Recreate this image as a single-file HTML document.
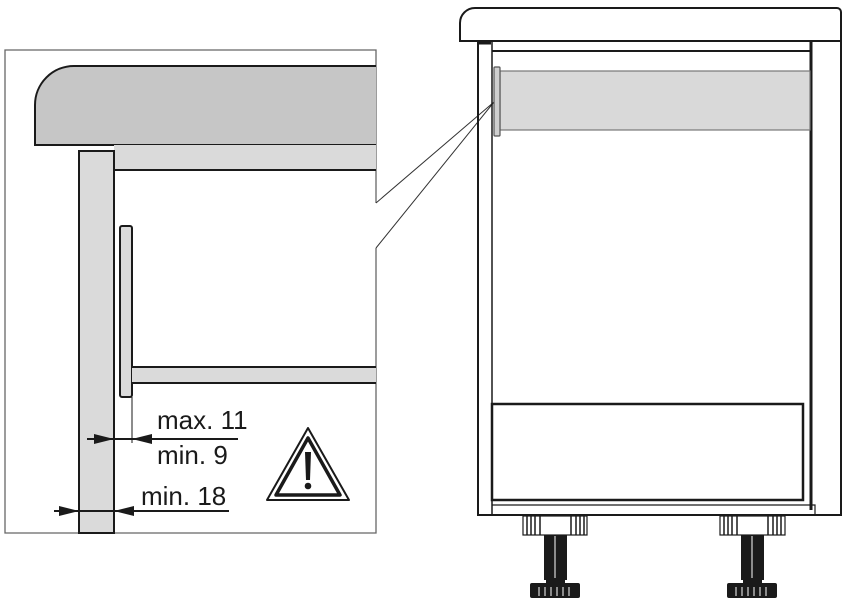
<!DOCTYPE html>
<html><head><style>body{margin:0;background:#fff}svg{display:block}</style></head><body>
<svg width="851" height="605" viewBox="0 0 851 605" xmlns="http://www.w3.org/2000/svg" font-family="Liberation Sans, sans-serif">
<g stroke="#1a1a1a" fill="none">
<path d="M376,203 V50 H5 V533 H376 V248" stroke="#666" stroke-width="1.3"/>
<path d="M376,203 L494,102 L376,248" stroke="#333" stroke-width="1"/>
<path d="M376,66 H74 A39,39 0 0 0 35,105 V145 H376" fill="#c6c6c6" stroke-width="2"/>
<rect x="114" y="145" width="262" height="25" fill="#dadada" stroke="none"/>
<path d="M114,170 H376" stroke-width="2"/>
<rect x="79" y="151" width="35" height="382" fill="#dadada" stroke-width="2"/>
<rect x="120" y="226" width="12" height="171" rx="2" fill="#dadada" stroke-width="2"/>
<rect x="132" y="367" width="244" height="16" fill="#dadada" stroke="none"/>
<path d="M132,367 H376 M132,383 H376" stroke-width="2"/>
<path d="M132,397 V443" stroke-width="1"/>
<path d="M87,439 H238 M54,511 H229" stroke-width="2"/>
</g>
<g fill="#1a1a1a">
<path d="M114,439 L94,434 L94,444 Z"/><path d="M132,439 L152,434 L152,444 Z"/>
<path d="M79,511 L59,506 L59,516 Z"/><path d="M114,511 L134,506 L134,516 Z"/>
</g>
<g font-size="26" fill="#1a1a1a" textLength="">
<text x="157" y="429">max. 11</text>
<text x="157" y="464">min. 9</text>
<text x="141" y="505">min. 18</text>
</g>
<path d="M308,428 L349,500 L267,500 Z" fill="none" stroke="#1a1a1a" stroke-width="2" stroke-linejoin="round"/>
<path d="M308,438 L340,495 L276,495 Z" fill="none" stroke="#1a1a1a" stroke-width="3.5" stroke-linejoin="round"/>
<path d="M305,452 H311 L310,480 H306 Z" fill="#1a1a1a"/>
<circle cx="308" cy="486" r="3.3" fill="#1a1a1a"/>
<g stroke="#1a1a1a" fill="none">
<path d="M460,41 V23 A15,15 0 0 1 475,8 H837 A4,4 0 0 1 841,12 V41 Z" stroke-width="2"/>
<path d="M478,41 V515 H841 V41" stroke-width="2"/>
<path d="M492,41 V515" stroke-width="1.5"/>
<path d="M479,43 H491" stroke-width="3"/>
<path d="M492,51 H811" stroke-width="2"/>
<path d="M811,41 V510" stroke-width="3"/>
<rect x="500" y="71" width="310" height="59" fill="#d9d9d9" stroke="#777" stroke-width="1.2"/>
<rect x="494" y="67" width="6" height="69" rx="1" fill="#cfcfcf" stroke="#555" stroke-width="1.2"/>
<rect x="492" y="404" width="311" height="96" stroke-width="2.5"/>
<path d="M492,505 H815 V515" stroke-width="1.2"/>
</g>
<g fill="#fff" stroke="#1a1a1a" stroke-width="1.2">
<rect x="523" y="516" width="64" height="19"/>
<rect x="720" y="516" width="65" height="19"/>
</g>
<g stroke="#1a1a1a" stroke-width="1.5">
<path d="M527,516 V535 M531,516 V535 M535,516 V535 M540,516 V535 M571,516 V535 M576,516 V535 M580,516 V535 M584,516 V535"/>
<path d="M724,516 V535 M728,516 V535 M732,516 V535 M737,516 V535 M768,516 V535 M773,516 V535 M777,516 V535 M781,516 V535"/>
</g>
<g fill="#1a1a1a">
<rect x="544" y="535" width="23" height="45"/><rect x="741" y="535" width="23" height="45"/>
<rect x="530" y="583" width="50" height="15" rx="2"/><rect x="727" y="583" width="50" height="15" rx="2"/>
<rect x="546" y="580" width="19" height="3"/><rect x="743" y="580" width="19" height="3"/>
</g>
<g stroke="#fff" stroke-width="1">
<path d="M555,536 V578 M752,536 V578"/>
<path d="M539,587 V596 M545,587 V596 M551,587 V596 M557,587 V596 M563,587 V596 M569,587 V596"/>
<path d="M736,587 V596 M742,587 V596 M748,587 V596 M754,587 V596 M760,587 V596 M766,587 V596"/>
</g>
</svg>
</body></html>
